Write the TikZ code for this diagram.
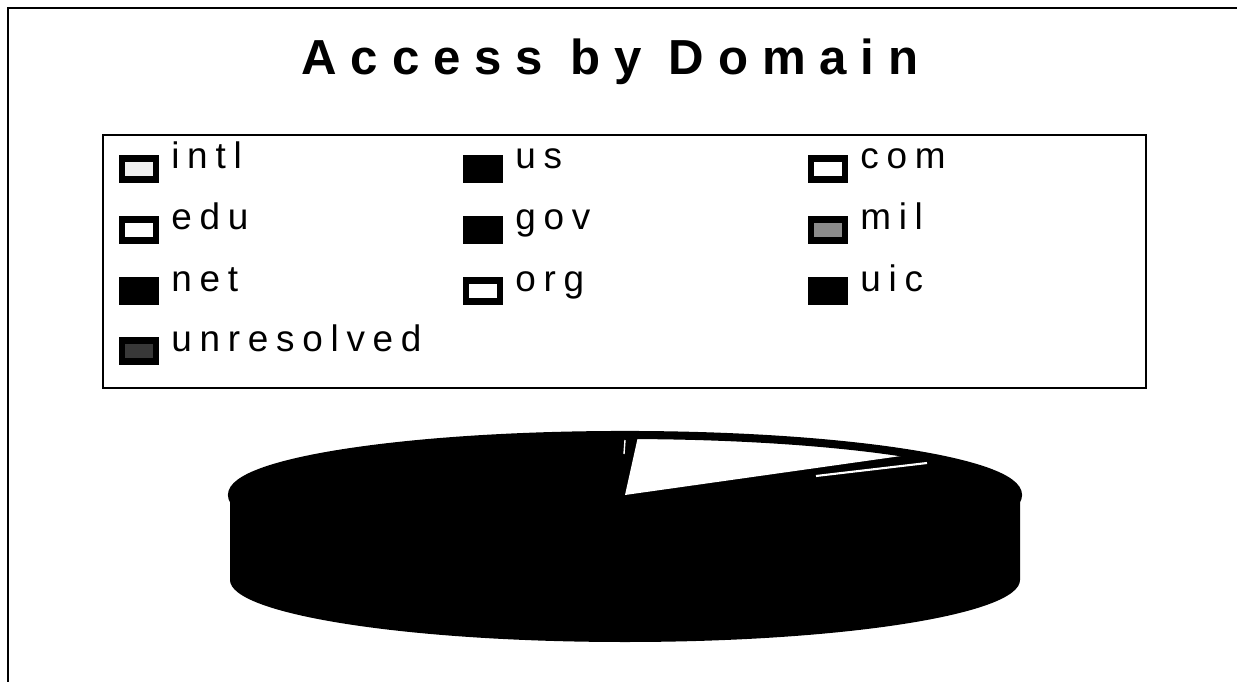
\documentclass[tikz,border=0pt]{standalone}
\usepackage{fontspec}
\setmainfont{Liberation Sans}
\usetikzlibrary{positioning}

\begin{document}
\begin{tikzpicture}[x=0.02cm,y=-0.02cm,node distance=0.3cm,
				swatch/.style={draw,line width=3.6pt,minimum width=0.68cm,minimum height=0.42cm,inner sep=0pt,outer sep=0pt},
				entry/.style={anchor=base west,inner sep=0pt,font=\fontsize{21}{23}\selectfont\addfontfeature{LetterSpace=21}}]
				\useasboundingbox (0,0) rectangle (1237,682);
				\draw[line width=1.2pt] (8,682) -- (8,8) -- (1237,8);
				\node (title) [anchor=base,inner sep=0pt,font=\fontsize{28}{30}\selectfont\bfseries\addfontfeature{LetterSpace=28}] at (610,75) {Access by Domain};
				% legend
				\draw[line width=1pt] (103,135) rectangle (1146,388);
				\node (intl)  [swatch,fill=black!6]  at (139,169) {};
				\node (us)    [swatch,fill=black]    at (483,169) {};
				\node (com)   [swatch,fill=white]    at (828,169) {};
				\node (edu)   [swatch,fill=white]    at (139,230) {};
				\node (gov)   [swatch,fill=black]    at (483,230) {};
				\node (mil)   [swatch,fill=black!45] at (828,230) {};
				\node (net)   [swatch,fill=black]    at (139,291) {};
				\node (org)   [swatch,fill=white]    at (483,291) {};
				\node (uic)   [swatch,fill=black]    at (828,291) {};
				\node (unres) [swatch,fill=black!78] at (139,351) {};
				\node (intlT)  [right=of intl,entry]  {intl};
				\node (usT)    [right=of us,entry]    {us};
				\node (comT)   [right=of com,entry]   {com};
				\node (eduT)   [right=of edu,entry]   {edu};
				\node (govT)   [right=of gov,entry]   {gov};
				\node (milT)   [right=of mil,entry]   {mil};
				\node (netT)   [right=of net,entry]   {net};
				\node (orgT)   [right=of org,entry]   {org};
				\node (uicT)   [right=of uic,entry]   {uic};
				\node (unresT) [right=of unres,entry] {unresolved};
				% pie
				\fill (230,495) -- (230,580) arc[start angle=180,end angle=0,x radius=395,y radius=62] -- (1020,495) -- cycle;
				\fill (625,495) ellipse [x radius=395,y radius=62];
				\fill[white] (625,495) -- ++(-88:395 and 62) arc[start angle=-88,end angle=-42,x radius=395,y radius=62] -- cycle;
				\draw[line width=4.6pt] (625,495) ellipse [x radius=393,y radius=60];
				\draw[white,line width=1.2pt] (816,476) -- (927,463);
				\draw[white,line width=0.8pt] (625,440) -- (624,454);
			\end{tikzpicture}
\end{document}
